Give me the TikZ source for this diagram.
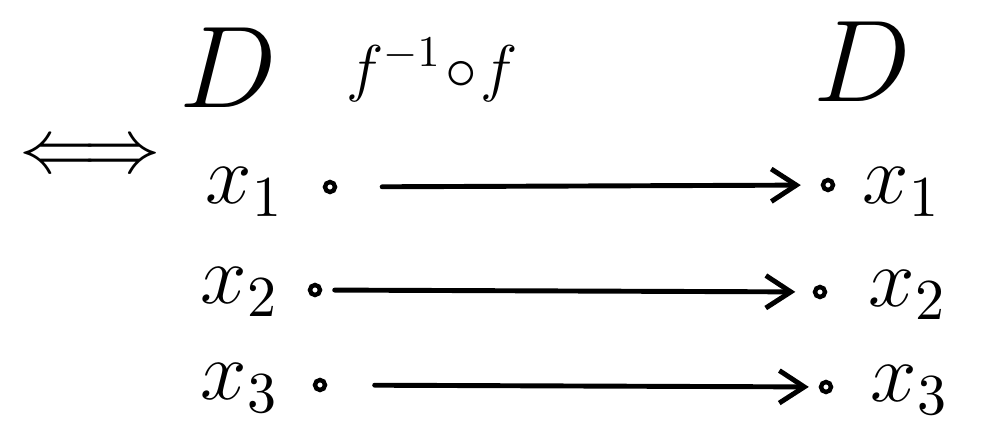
\documentclass[tikz,border=0pt]{standalone}
\usepackage{tikz}
\usepackage{amsmath}
\usetikzlibrary{arrows.meta}

\tikzset{
  pt/.style={circle,draw,line width=2.5pt,inner sep=0,minimum size=0.2cm},
  lbl/.style={scale=3.3,font=\Large},
  map/.style={line width=2.8pt,line cap=round,-{Straight Barb[length=0.5cm,width=0.65cm,line width=2.8pt]}}
}

\begin{document}
\begin{tikzpicture}[x=0.02cm,y=-0.02cm]
  \useasboundingbox (0,0) rectangle (992,442);
  % left side: equivalence and domain
  \node[scale=4.4] (eqv) at (90,158) {$\Longleftrightarrow$};
  \node[scale=4.6,font=\Large] (domL) at (228,68) {$D$};
  \node[scale=4.6,font=\Large] (domR) at (862,62) {$D$};
  \node[scale=2.5,font=\Large] (fof) at (432,70) {$f^{-1}\!\circ\! f$};
  % points
  \node[lbl] (xa) at (245,192) {$x_1$};
  \node[lbl] (xb) at (240,292) {$x_2$};
  \node[lbl] (xc) at (240,388) {$x_3$};
  \node[pt] (pa) at (330,187) {};
  \node[pt] (pb) at (315,290) {};
  \node[pt] (pc) at (320,385) {};
  \node[pt] (qa) at (828,185) {};
  \node[pt] (qb) at (820,292) {};
  \node[pt] (qc) at (826,387) {};
  \node[lbl] (ya) at (902,192) {$x_1$};
  \node[lbl] (yb) at (908,295) {$x_2$};
  \node[lbl] (yc) at (910,390) {$x_3$};
  % maps
  \draw[map,shorten <=0.9cm,shorten >=0.4cm] (pa)--(qa);
  \draw[map,shorten <=0.25cm,shorten >=0.35cm] (pb)--(qb);
  \draw[map,shorten <=0.95cm,shorten >=0.2cm] (pc)--(qc);
\end{tikzpicture}
\end{document}
